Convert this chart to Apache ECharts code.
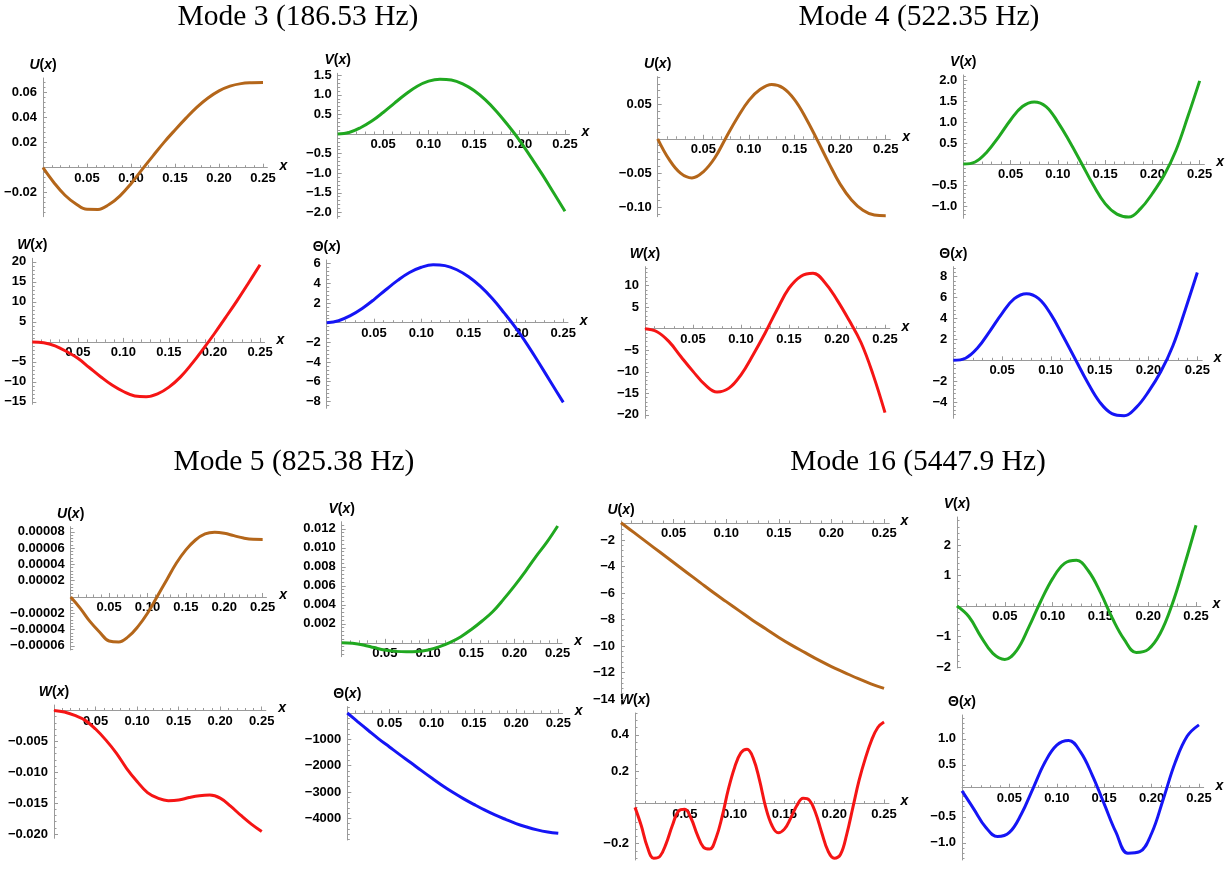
<!DOCTYPE html>
<html>
<head>
<meta charset="utf-8">
<script src="https://cdn.jsdelivr.net/npm/echarts@6/dist/echarts.min.js"></script>
<style>
html, body { margin: 0; padding: 0; background: #ffffff; }
#chart { width: 1225px; height: 871px; }
</style>
</head>
<body>
<div id="chart"></div>
<script>
// Sample positions along the beam (m)
const xs = [0, 0.0125, 0.025, 0.0375, 0.05, 0.0625, 0.075, 0.0875, 0.1, 0.1125, 0.125,
            0.1375, 0.15, 0.1625, 0.175, 0.1875, 0.2, 0.2125, 0.225, 0.2375, 0.25];
const xsFine = [0, 0.00625, 0.0125, 0.01875, 0.025, 0.03125, 0.0375, 0.04375, 0.05, 0.05625,
                0.0625, 0.06875, 0.075, 0.08125, 0.0875, 0.09375, 0.1, 0.10625, 0.1125, 0.11875,
                0.125, 0.13125, 0.1375, 0.14375, 0.15, 0.15625, 0.1625, 0.16875, 0.175, 0.18125,
                0.1875, 0.19375, 0.2, 0.20625, 0.2125, 0.21875, 0.225, 0.23125, 0.2375, 0.24375, 0.25];
const xTickLabels = [0.05, 0.10, 0.15, 0.20, 0.25];

const modeTitles = ['Mode 3 (186.53 Hz)', 'Mode 4 (522.35 Hz)', 'Mode 5 (825.38 Hz)', 'Mode 16 (5447.9 Hz)'];

// Mode 3 (186.53 Hz)
const mode3U = [0, -0.012, -0.022, -0.029, -0.0333, -0.0334, -0.0295, -0.0225, -0.0128, -0.0015, 0.0095,
                0.0203, 0.0302, 0.0397, 0.0485, 0.0558, 0.0615, 0.0653, 0.0673, 0.068, 0.0682];
const mode3V = [0, 0.04, 0.16, 0.33, 0.55, 0.79, 1.02, 1.22, 1.35, 1.40, 1.38,
                1.28, 1.11, 0.87, 0.57, 0.22, -0.16, -0.59, -1.03, -1.50, -1.97];
const mode3W = [0, -0.2, -1.0, -2.4, -4.1, -6.4, -8.7, -10.8, -12.4, -13.5, -13.7,
                -13.0, -11.3, -8.8, -5.5, -1.8, 2.1, 6.2, 10.4, 14.8, 19.3];
const mode3T = [0, 0.2, 0.72, 1.45, 2.35, 3.35, 4.3, 5.1, 5.63, 5.88, 5.8,
                5.38, 4.66, 3.68, 2.45, 1.0, -0.55, -2.3, -4.2, -6.15, -8.1];

// Mode 4 (522.35 Hz)
const mode4U = [0, -0.030, -0.050, -0.057, -0.048, -0.028, 0.002, 0.031, 0.056, 0.072, 0.079,
                0.074, 0.057, 0.030, -0.002, -0.035, -0.066, -0.089, -0.104, -0.111, -0.112];
const mode4V = [0, 0.05, 0.29, 0.65, 1.05, 1.37, 1.48, 1.37, 1.0, 0.53, 0.02,
                -0.5, -0.94, -1.19, -1.26, -1.06, -0.70, -0.26, 0.33, 1.13, 1.98];
const mode4W = [0, -0.7, -3.0, -6.5, -9.9, -13.0, -14.7, -13.8, -10.7, -6.1, -1.05,
                4.4, 9.4, 12.2, 12.9, 10.7, 6.7, 2.0, -3.2, -10.6, -19.5];
const mode4T = [0, 0.2, 1.2, 2.8, 4.5, 5.9, 6.38, 5.9, 4.4, 2.3, 0.1,
                -2.1, -4.0, -5.1, -5.3, -4.5, -3.0, -1.1, 1.4, 4.8, 8.4];

// Mode 5 (825.38 Hz)
const mode5U = [0, -0.0000139, -0.00003, -0.000043, -0.000054, -0.0000552, -0.0000487, -0.0000364, -0.00002, 0.0000004, 0.0000209,
                0.0000414, 0.0000578, 0.00007, 0.0000774, 0.0000794, 0.0000782, 0.0000753, 0.0000724, 0.0000708, 0.0000706];
const mode5V = [0, -0.00005, -0.00022, -0.0005, -0.00076, -0.0009, -0.00095, -0.00092, -0.00075, -0.00042, 0.00003,
                0.00062, 0.0014, 0.0023, 0.0033, 0.0046, 0.006, 0.0075, 0.0091, 0.0106, 0.0123];
const mode5W = [0, -0.00025, -0.0008, -0.0016, -0.003, -0.0048, -0.0069, -0.0094, -0.0115, -0.0133, -0.0142,
                -0.0146, -0.0145, -0.0141, -0.0138, -0.0137, -0.0142, -0.0155, -0.017, -0.0184, -0.0196];
const mode5T = [0, -335, -665, -990, -1290, -1590, -1880, -2180, -2470, -2750, -3010,
                -3250, -3470, -3680, -3870, -4040, -4200, -4330, -4440, -4520, -4570];

// Mode 16 (5447.9 Hz)
const mode16U = [-0.7, -1.45, -2.2, -2.95, -3.7, -4.45, -5.2, -5.95, -6.65, -7.35, -8.05,
                 -8.7, -9.35, -9.95, -10.5, -11.05, -11.55, -12.0, -12.45, -12.85, -13.2];
const mode16V = [0, -0.35, -1.0, -1.55, -1.75, -1.45, -0.7, 0.15, 0.9, 1.4, 1.5,
                 1.15, 0.45, -0.4, -1.1, -1.52, -1.42, -0.9, 0.05, 1.3, 2.65];
const mode16W = [0, -0.1, -0.22, -0.28, -0.27, -0.2, -0.1, -0.02, -0.01, -0.06,
                 -0.15, -0.22, -0.23, -0.17, -0.05, 0.1, 0.22, 0.3, 0.32, 0.27,
                 0.15, 0.0, -0.1, -0.14, -0.12, -0.06, 0.01, 0.05, 0.04, -0.03,
                 -0.14, -0.24, -0.28, -0.26, -0.15, 0.0, 0.15, 0.27, 0.37, 0.44, 0.47];
const mode16T = [0, -0.35, -0.7, -0.88, -0.8, -0.45, 0.05, 0.55, 0.88, 0.97, 0.75,
                 0.3, -0.25, -0.8, -1.2, -1.17, -0.82, -0.15, 0.55, 1.05, 1.27];

const BROWN = '#b4661a', GREEN = '#20a820', RED = '#f51515', BLUE = '#1515f5';
const AXIS_GRAY = '#9a9a9a';
const X_MAX = 0.255;

// Panel layout: grid box in px, y range, major tick step and label decimals
const panels = [
  { sym: 'U', x: xs, y: mode3U, color: BROWN, box: [43, 78, 224.4, 138.7], yr: [-0.0392, 0.0718], step: 0.02, dec: 2 },
  { sym: 'V', x: xs, y: mode3V, color: GREEN, box: [337.7, 73.3, 231.8, 145], yr: [-2.15, 1.55], step: 0.5, dec: 1 },
  { sym: 'W', x: xs, y: mode3W, color: RED, box: [32.3, 258.3, 232.3, 146], yr: [-15.6, 20.9], step: 5, dec: 0 },
  { sym: 'Θ', x: xs, y: mode3T, color: BLUE, box: [326.7, 260, 241.3, 148.3], yr: [-8.7, 6.37], step: 2, dec: 0 },

  { sym: 'U', x: xs, y: mode4U, color: BROWN, box: [657.7, 76.7, 232.6, 140], yr: [-0.1134, 0.0904], step: 0.05, dec: 2 },
  { sym: 'V', x: xs, y: mode4V, color: GREEN, box: [963.3, 75, 241.4, 143.3], yr: [-1.29, 2.12], step: 0.5, dec: 1 },
  { sym: 'W', x: xs, y: mode4W, color: RED, box: [645, 266.7, 244.8, 151.6], yr: [-20.8, 14.4], step: 5, dec: 0 },
  { sym: 'Θ', x: xs, y: mode4T, color: BLUE, box: [953.3, 266.7, 248.9, 151.6], yr: [-5.55, 8.96], step: 2, dec: 0 },

  { sym: 'U', x: xs, y: mode5U, color: BROWN, box: [70.7, 526.7, 195.8, 123.3], yr: [-0.0000651, 0.0000863], step: 0.00002, dec: 5 },
  { sym: 'V', x: xs, y: mode5V, color: GREEN, box: [341.7, 521.7, 220.3, 135], yr: [-0.00146, 0.01275], step: 0.002, dec: 3 },
  { sym: 'W', x: xs, y: mode5W, color: RED, box: [54, 705, 211.9, 133.3], yr: [-0.0207, 0.00089], step: 0.005, dec: 3 },
  { sym: 'Θ', x: xs, y: mode5T, color: BLUE, box: [347.3, 706.7, 215.2, 133.3], yr: [-4823, 239], step: 1000, dec: 0 },

  { sym: 'U', x: xs, y: mode16U, color: BROWN, box: [621, 523, 268.3, 182], yr: [-14.45, -0.72], step: 2, dec: 0, xTop: true },
  { sym: 'V', x: xs, y: mode16V, color: GREEN, box: [957, 517, 243.8, 151], yr: [-2.03, 2.92], step: 1, dec: 0 },
  { sym: 'W', x: xsFine, y: mode16W, color: RED, box: [635, 713, 254, 147], yr: [-0.29, 0.52], step: 0.2, dec: 1 },
  { sym: 'Θ', x: xs, y: mode16T, color: BLUE, box: [962, 715, 241.7, 145], yr: [-1.33, 1.46], step: 0.5, dec: 1 }
];

const titlePos = [[298, 17], [919, 17], [294, 462], [918, 462]];

function multiples(min, max, step, skipZero) {
  const out = [];
  const k0 = Math.ceil(min / step - 1e-9), k1 = Math.floor(max / step + 1e-9);
  for (let k = k0; k <= k1; k++) {
    if (skipZero && k === 0) continue;
    out.push(+(k * step).toPrecision(12));
  }
  return out;
}
function fmt(v, dec) {
  const s = Math.abs(v).toFixed(dec);
  return (v < 0 ? '\u2212' : '') + s;
}

const tickFont = { fontFamily: '"Liberation Sans", Arial, sans-serif', fontWeight: 'bold', fontSize: 13, color: '#000' };
const nameRich = {
  i: { fontFamily: '"Liberation Sans", Arial, sans-serif', fontWeight: 'bold', fontStyle: 'italic', fontSize: 14, color: '#000' },
  n: { fontFamily: '"Liberation Sans", Arial, sans-serif', fontWeight: 'bold', fontSize: 14, color: '#000' }
};
function symName(sym) {
  return sym === 'Θ' ? '{n|Θ(}{i|x}{n|)}' : '{i|' + sym + '}{n|(}{i|x}{n|)}';
}

const grid = [], xAxis = [], yAxis = [], series = [];
const xMinor = multiples(0, X_MAX, 0.01, false);

panels.forEach((p, i) => {
  const [left, top, width, height] = p.box;
  grid.push({ left, top, width, height, containLabel: false });
  const ymin = p.yr[0], ymax = p.yr[1];
  const yMajor = multiples(ymin, ymax, p.step, true);
  const yMinor = multiples(ymin, ymax, p.step / 5, false);
  const lineStyle = { color: AXIS_GRAY, width: 1 };
  const pos = p.xTop ? 'top' : 'bottom';

  // main x axis: line, major ticks, labels, name
  xAxis.push({
    gridIndex: i, type: 'value', min: 0, max: X_MAX, position: pos, offset: 0,
    axisLine: { show: true, onZero: false, lineStyle },
    axisTick: { show: true, inside: !p.xTop, length: 4, customValues: xTickLabels, lineStyle },
    axisLabel: { show: true, inside: !!p.xTop, margin: 4, customValues: xTickLabels,
                 formatter: v => fmt(v, 2), ...tickFont },
    splitLine: { show: false },
    name: '{i|x}', nameLocation: 'end', nameGap: 5,
    nameTextStyle: { rich: nameRich, verticalAlign: 'middle', padding: [0, 0, 4, 0] }
  });
  // minor x ticks
  xAxis.push({
    gridIndex: i, type: 'value', min: 0, max: X_MAX, position: pos, offset: 0,
    axisLine: { show: false, onZero: false },
    axisTick: { show: true, inside: !p.xTop, length: 2.5, customValues: xMinor, lineStyle },
    axisLabel: { show: false },
    splitLine: { show: false }
  });
  // main y axis
  yAxis.push({
    gridIndex: i, type: 'value', min: ymin, max: ymax, position: 'left',
    axisLine: { show: true, onZero: false, lineStyle },
    axisTick: { show: true, inside: true, length: 4, customValues: yMajor, lineStyle },
    axisLabel: { show: true, margin: 6, customValues: yMajor, formatter: v => fmt(v, p.dec), ...tickFont },
    splitLine: { show: false },
    name: symName(p.sym), nameLocation: 'end', nameGap: 6,
    nameTextStyle: { rich: nameRich }
  });
  // minor y ticks
  yAxis.push({
    gridIndex: i, type: 'value', min: ymin, max: ymax, position: 'left',
    axisLine: { show: false, onZero: false },
    axisTick: { show: true, inside: true, length: 2.5, customValues: yMinor, lineStyle },
    axisLabel: { show: false },
    splitLine: { show: false }
  });

  series.push({
    type: 'line', xAxisIndex: 2 * i, yAxisIndex: 2 * i,
    data: p.x.map((xv, k) => [xv, p.y[k]]),
    smooth: 0.4, showSymbol: false, symbol: 'none', clip: false,
    lineStyle: { color: p.color, width: 3 },
    silent: true, animation: false
  });
});

const graphic = modeTitles.map((t, k) => ({
  type: 'text', x: titlePos[k][0], y: titlePos[k][1],
  style: { text: t, fontFamily: '"Liberation Serif", "Times New Roman", serif', fontSize: 29.5,
           fill: '#000', align: 'center', verticalAlign: 'middle' }
}));

const chart = echarts.init(document.getElementById('chart'), null, { renderer: 'canvas' });
chart.setOption({ backgroundColor: '#ffffff', animation: false, grid, xAxis, yAxis, series, graphic });

// Move each x axis (with its ticks and labels) onto the y = 0 line of its panel,
// using the panel's own y scale.
const xOffsets = [];
panels.forEach((p, i) => {
  let off = 0;
  if (!p.xTop) {
    const zeroPx = chart.convertToPixel({ yAxisIndex: 2 * i }, 0);
    const bottomPx = p.box[1] + p.box[3];
    off = zeroPx - bottomPx;
  }
  xOffsets.push({ offset: off }, { offset: off });
});
chart.setOption({ xAxis: xOffsets });
</script>
</body>
</html>
